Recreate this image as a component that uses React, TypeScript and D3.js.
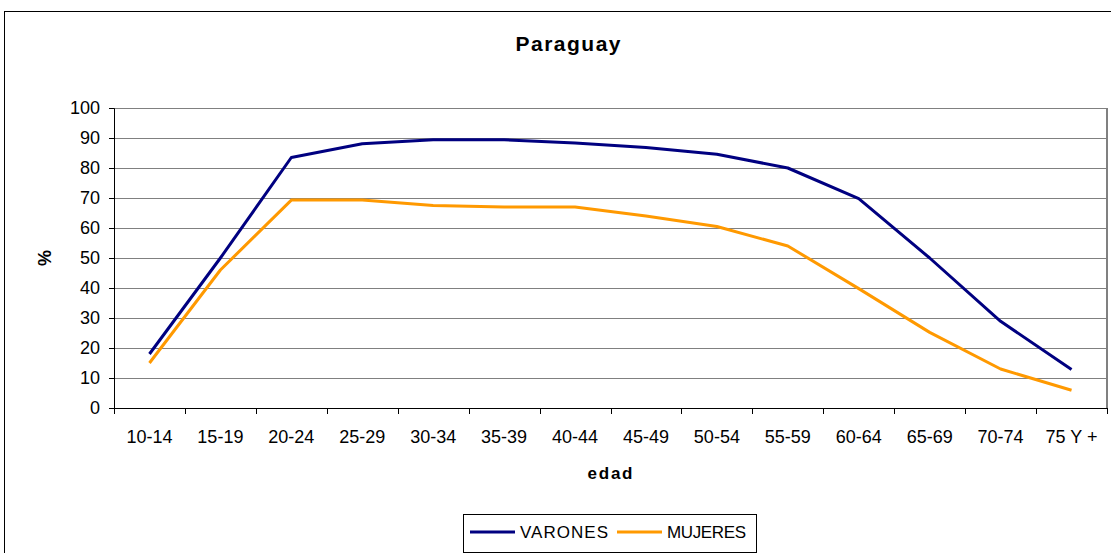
import React, { useEffect, useRef } from 'react';
import * as d3 from 'd3';

const categories = ['10-14', '15-19', '20-24', '25-29', '30-34', '35-39', '40-44', '45-49', '50-54', '55-59', '60-64', '65-69', '70-74', '75 Y +'];
const varones = [18, 50, 83.5, 88.1, 89.4, 89.4, 88.3, 86.8, 84.6, 80, 69.8, 50, 28.9, 12.8];
const mujeres = [15, 46, 69.3, 69.3, 67.5, 67, 67, 64, 60.5, 54, 39.8, 25.2, 13, 5.9];
const yTicks = [0, 10, 20, 30, 40, 50, 60, 70, 80, 90, 100];

const series = [
  { name: 'VARONES', values: varones, color: '#000080' },
  { name: 'MUJERES', values: mujeres, color: '#FF9900' },
];

const W = 1111;
const H = 553;
const margin = { left: 114, right: 4, top: 108, bottom: 145 };
const font = 'Arial, "Liberation Sans", sans-serif';

export default function App() {
  const svgRef = useRef<SVGSVGElement>(null);

  useEffect(() => {
    if (!svgRef.current) return;
    const svg = d3.select(svgRef.current);
    svg.selectAll('*').remove();

    const innerW = W - margin.left - margin.right;
    const innerH = H - margin.top - margin.bottom;

    // outer chart frame
    svg.append('rect')
      .attr('x', 4.5).attr('y', 11.5)
      .attr('width', W + 10).attr('height', H + 10)
      .attr('fill', '#fff').attr('stroke', '#000').attr('stroke-width', 1);

    svg.append('text')
      .attr('x', 568).attr('y', 51)
      .attr('text-anchor', 'middle')
      .attr('textLength', 105)
      .style('font-family', font).style('font-size', '21px').style('font-weight', 'bold')
      .text('Paraguay');

    const x = d3.scaleBand().domain(categories).range([0, innerW]);
    const y = d3.scaleLinear().domain([0, 100]).range([innerH, 0]);

    const g = svg.append('g').attr('transform', `translate(${margin.left},${margin.top})`);

    // gridlines
    g.selectAll('.grid')
      .data(yTicks.filter(t => t > 0))
      .enter().append('line')
      .attr('x1', 0).attr('x2', innerW)
      .attr('y1', d => Math.round(y(d)) + 0.5).attr('y2', d => Math.round(y(d)) + 0.5)
      .attr('stroke', '#808080').attr('stroke-width', 1);

    // right border of plot
    g.append('line')
      .attr('x1', innerW).attr('x2', innerW)
      .attr('y1', 0).attr('y2', innerH)
      .attr('stroke', '#808080').attr('stroke-width', 2);

    // y axis
    const yAxis = g.append('g')
      .call(d3.axisLeft(y).tickValues(yTicks).tickSize(5).tickPadding(9));
    yAxis.select('.domain').attr('stroke', '#000');
    yAxis.selectAll('.tick line').attr('stroke', '#000');
    yAxis.selectAll('text').style('font-family', font).style('font-size', '18px').attr('fill', '#000');

    // x axis with ticks at band boundaries
    const xAxis = g.append('g').attr('transform', `translate(0,${innerH})`);
    xAxis.append('line')
      .attr('x1', 0).attr('x2', innerW).attr('y1', 0.5).attr('y2', 0.5)
      .attr('stroke', '#000');
    const bounds = d3.range(categories.length + 1).map(i => i * x.bandwidth());
    xAxis.selectAll('.tick')
      .data(bounds)
      .enter().append('line')
      .attr('x1', d => Math.round(d) + 0.5).attr('x2', d => Math.round(d) + 0.5)
      .attr('y1', 0).attr('y2', 6)
      .attr('stroke', '#000');
    xAxis.selectAll('.lbl')
      .data(categories)
      .enter().append('text')
      .attr('x', d => (x(d) || 0) + x.bandwidth() / 2)
      .attr('y', 35)
      .attr('text-anchor', 'middle')
      .style('font-family', font).style('font-size', '18px')
      .text(d => d);

    // axis titles
    svg.append('text')
      .attr('transform', `translate(51,${margin.top + innerH / 2}) rotate(-90)`)
      .attr('text-anchor', 'middle')
      .style('font-family', font).style('font-size', '18px').style('font-weight', 'bold')
      .text('%');
    svg.append('text')
      .attr('x', 610).attr('y', 479)
      .attr('text-anchor', 'middle')
      .attr('textLength', 45)
      .style('font-family', font).style('font-size', '17px').style('font-weight', 'bold')
      .text('edad');

    // lines
    const line = d3.line<number>()
      .x((_, i) => (x(categories[i]) || 0) + x.bandwidth() / 2)
      .y(d => y(d));
    series.forEach(s => {
      g.append('path')
        .datum(s.values)
        .attr('d', line)
        .attr('fill', 'none')
        .attr('stroke', s.color)
        .attr('stroke-width', 3)
        .attr('stroke-linejoin', 'round');
    });

    // legend
    const lg = svg.append('g');
    lg.append('rect')
      .attr('x', 463.5).attr('y', 514.5).attr('width', 293).attr('height', 38)
      .attr('fill', '#fff').attr('stroke', '#000');
    const legendX = [470, 617];
    const legendW = [88, 79];
    series.forEach((s, i) => {
      lg.append('line')
        .attr('x1', legendX[i]).attr('x2', legendX[i] + 45)
        .attr('y1', 532).attr('y2', 532)
        .attr('stroke', s.color).attr('stroke-width', 3);
      lg.append('text')
        .attr('x', legendX[i] + 50).attr('y', 538)
        .attr('textLength', legendW[i])
        .style('font-family', font).style('font-size', '17px')
        .text(s.name);
    });
  }, []);

  return (
    <svg
      ref={svgRef}
      width={W}
      height={H}
      style={{ position: 'absolute', left: 0, top: 0, background: '#fff' }}
    />
  );
}
